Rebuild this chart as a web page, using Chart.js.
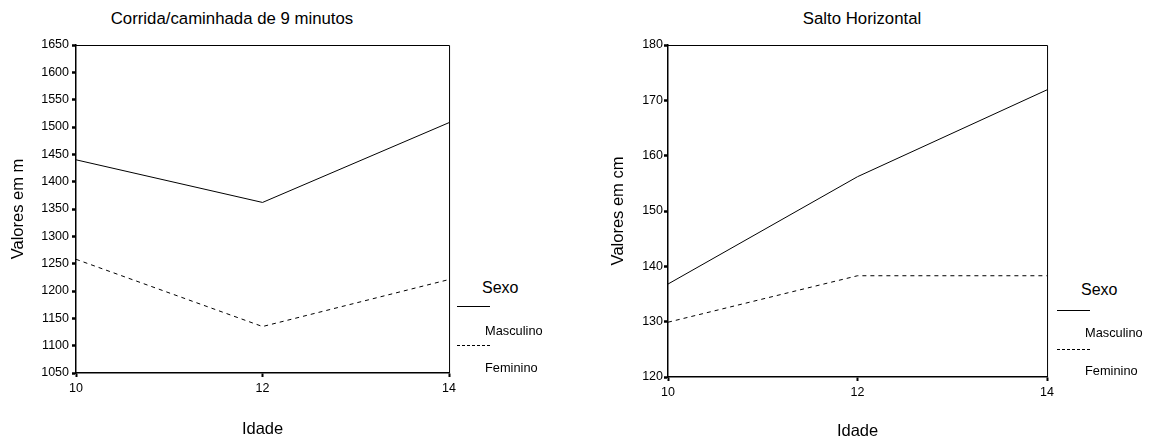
<!DOCTYPE html>
<html>
<head>
<meta charset="utf-8">
<script src="https://cdn.jsdelivr.net/npm/chart.js@4.4.1/dist/chart.umd.min.js"></script>
<style>
    body { margin: 0; background: #fff; font-family: "Liberation Sans", Arial, sans-serif; }
    #page { position: relative; width: 1151px; height: 441px; overflow: hidden; }
    .box { position: absolute; top: 0; height: 441px; }
    .title { position: absolute; font-size: 16.8px; color: #000; white-space: nowrap; transform: translate(-50%, -50%); }
    .lg { position: absolute; color: #000; white-space: nowrap; transform: translateY(-50%); }
    .sw { position: absolute; height: 0; width: 33px; }
</style>
</head>
<body>
<div id="page">
    <div class="title" style="left:232px; top:19px;">Corrida/caminhada de 9 minutos</div>
    <div class="title" style="left:862px; top:19px;">Salto Horizontal</div>

    <div class="box" style="left:0; width:460px;"><canvas id="corrida"></canvas></div>
    <div class="box" style="left:600px; width:458px;"><canvas id="salto"></canvas></div>

    <!-- legends -->
    <div class="lg" style="left:482px; top:288px; font-size:16px;">Sexo</div>
    <div class="sw" style="left:457px; top:306px; border-top:1px solid #000;"></div>
    <div class="lg" style="left:485px; top:330px; font-size:12.8px;">Masculino</div>
    <div class="sw" style="left:457px; top:345px; border-top:1px dashed #000;"></div>
    <div class="lg" style="left:485px; top:367px; font-size:12.8px;">Feminino</div>

    <div class="lg" style="left:1081px; top:290px; font-size:16px;">Sexo</div>
    <div class="sw" style="left:1057px; top:310px; border-top:1px solid #000;"></div>
    <div class="lg" style="left:1085px; top:332px; font-size:12.8px;">Masculino</div>
    <div class="sw" style="left:1057px; top:349px; border-top:1px dashed #000;"></div>
    <div class="lg" style="left:1085px; top:370px; font-size:12.8px;">Feminino</div>
</div>
<script>
const ages = [10, 12, 14];
const seriesNames = ['Masculino', 'Feminino'];

// Corrida/caminhada de 9 minutos (m)
const corridaMasculino = [1440, 1362, 1508];
const corridaFeminino = [1258, 1135, 1221];

// Salto Horizontal (cm)
const saltoMasculino = [136.8, 156.2, 171.9];
const saltoFeminino = [129.9, 138.3, 138.3];

const FONT = '"Liberation Sans", Arial, sans-serif';
Chart.defaults.font.family = FONT;
Chart.defaults.color = '#000';

// draws the top and right edge of the plot frame
const frame = {
    id: 'frame',
    afterDraw(chart) {
        const { ctx, chartArea: a } = chart;
        ctx.save();
        ctx.strokeStyle = '#000';
        ctx.lineWidth = 1;
        ctx.beginPath();
        ctx.moveTo(a.left, a.top + 0.5);
        ctx.lineTo(a.right + 0.5, a.top + 0.5);
        ctx.lineTo(a.right + 0.5, a.bottom);
        ctx.stroke();
        ctx.restore();
    }
};

function toPoints(values) {
    return values.map((v, i) => ({ x: ages[i], y: v }));
}

function makeChart(id, masc, fem, cfg) {
    return new Chart(document.getElementById(id), {
        type: 'line',
        data: {
            datasets: [
                { label: seriesNames[0], data: toPoints(masc), borderColor: '#000', borderWidth: 1, pointRadius: 0, tension: 0 },
                { label: seriesNames[1], data: toPoints(fem), borderColor: '#000', borderWidth: 1, borderDash: [4, 4], pointRadius: 0, tension: 0 }
            ]
        },
        options: {
            responsive: true,
            maintainAspectRatio: false,
            animation: false,
            layout: { padding: { top: 45, right: 10, left: 0, bottom: 0 } },
            plugins: { legend: { display: false }, tooltip: { enabled: false } },
            scales: {
                x: {
                    type: 'linear',
                    min: 10, max: 14,
                    border: { display: true, color: '#000', width: 1.5 },
                    grid: { drawOnChartArea: false, drawTicks: true, tickLength: 4, tickWidth: 2, tickColor: '#000' },
                    ticks: { stepSize: 2, padding: cfg.xPad, font: { size: 12.5 }, maxRotation: 0, callback: v => String(v) },
                    title: { display: true, text: 'Idade', font: { size: 16.5 }, padding: { top: 0, bottom: cfg.xTitlePad } },
                    afterFit(scale) { scale.height = cfg.xHeight; }
                },
                y: {
                    min: cfg.yMin, max: cfg.yMax,
                    border: { display: true, color: '#000', width: 1.5 },
                    grid: { drawOnChartArea: false, drawTicks: true, tickLength: 4, tickWidth: 2.5, tickColor: '#000' },
                    ticks: { stepSize: cfg.yStep, padding: cfg.yPad, font: { size: 12.5 }, callback: v => String(v) },
                    title: { display: true, text: cfg.yTitle, font: { size: 16.5 }, padding: { top: 8.1, bottom: 0 } },
                    afterFit(scale) { scale.width = cfg.yWidth; }
                }
            }
        },
        plugins: [frame]
    });
}

makeChart('corrida', corridaMasculino, corridaFeminino, {
    yMin: 1050, yMax: 1650, yStep: 50, yTitle: 'Valores em m',
    yWidth: 76, yPad: 3, xHeight: 68, xPad: 4, xTitlePad: 2.1
});

makeChart('salto', saltoMasculino, saltoFeminino, {
    yMin: 120, yMax: 180, yStep: 10, yTitle: 'Valores em cm',
    yWidth: 68, yPad: 1, xHeight: 64, xPad: 4, xTitlePad: 0
});
</script>
</body>
</html>
